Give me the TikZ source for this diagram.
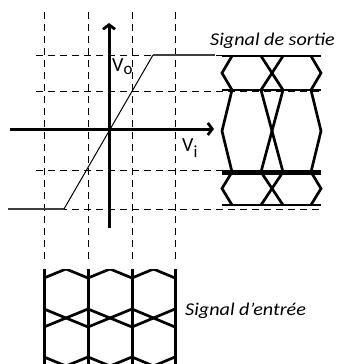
\documentclass[tikz,border=0pt]{standalone}
\usepackage{fontspec}
\setmainfont{Carlito}
\usetikzlibrary{arrows.meta}
\tikzset{
  gridline/.style={line width=0.9pt, dash pattern=on 7pt off 5pt},
  axisline/.style={line width=3pt, -{Straight Barb[length=4.5pt,width=12pt,line width=2.8pt]}},
  sig/.style={line width=2.7pt},
  sigthick/.style={line width=5pt},
  satline/.style={line width=2pt, draw={black!75}},
  lin/.style={line width=1pt},
  lbl/.style={inner sep=0pt, anchor=base west},
}
\newcommand{\sigtext}[1]{\scalebox{1.12}[1]{\fontsize{18}{20}\selectfont\itshape #1}}
\begin{document}
\begin{tikzpicture}[x=1pt,y=-1pt]
\useasboundingbox (0,0) rectangle (337,364);
% vertical dashed grid
\foreach \x in {44,88,132,175} \draw[gridline] (\x,12) -- (\x,262);
% horizontal dashed grid
\foreach \y in {55,91,170,209} \draw[gridline] (36,\y) -- (321,\y);
% transfer characteristic
\coordinate (s0) at (8,209);
\coordinate (s1) at (64,209);
\coordinate (s2) at (153,55);
\coordinate (s3) at (215,55);
\draw[satline] (s0) -- (s1);
\draw[lin] (s1) -- (s2);
\draw[satline] (s2) -- (s3);
% axes
\coordinate (xa0) at (10,129);
\coordinate (xa1) at (214,129);
\coordinate (ya0) at (109,228);
\coordinate (ya1) at (109,23);
\draw[axisline] (xa0) -- (xa1);
\draw[axisline] (ya0) -- (ya1);
\node[lbl] (vo) at (112,71) {\fontsize{20}{22}\selectfont V\raisebox{-3pt}{\fontsize{17}{18}\selectfont o}};
\node[lbl] (vi) at (182,151) {\fontsize{20}{22}\selectfont V\raisebox{-6pt}{\fontsize{17}{18}\selectfont i}};
% output signal (horizontal eye)
\foreach \y in {56,90,205} \draw[sig] (222,\y) -- (321,\y);
\draw[sigthick] (222,172) -- (321,172);
\foreach \ya/\yb in {56/90,90/172,172/205}{
  \pgfmathsetmacro{\ym}{(\ya+\yb)/2}
  \draw[sig] (232,\ya) -- (222,\ym) -- (232,\yb);
  \draw[sig] (261,\ya) -- (283,\yb);
  \draw[sig] (283,\ya) -- (261,\yb);
  \draw[sig] (311,\ya) -- (321,\ym) -- (311,\yb);
}
\node[lbl] (sortie) at (210,45) {\sigtext{Signal de sortie}};
% input signal (vertical eye)
\begin{scope}
\clip (0,269) rectangle (337,364);
\foreach \x in {44,88,132,175} \draw[sig, line width=3pt] (\x,269) -- (\x,366);
\foreach \a/\b in {44/88,88/132,132/175}{
  \pgfmathsetmacro{\c}{(\a+\b)/2}
  \draw[sig] (\a,278) -- (\c,269) -- (\b,278);
  \draw[sig] (\a,309) -- (\b,327);
  \draw[sig] (\b,309) -- (\a,327);
  \draw[sig] (\a,357) -- (\c,366) -- (\b,357);
}
\end{scope}
\node[lbl] (entree) at (185,315) {\sigtext{Signal d’entrée}};
\end{tikzpicture}
\end{document}
